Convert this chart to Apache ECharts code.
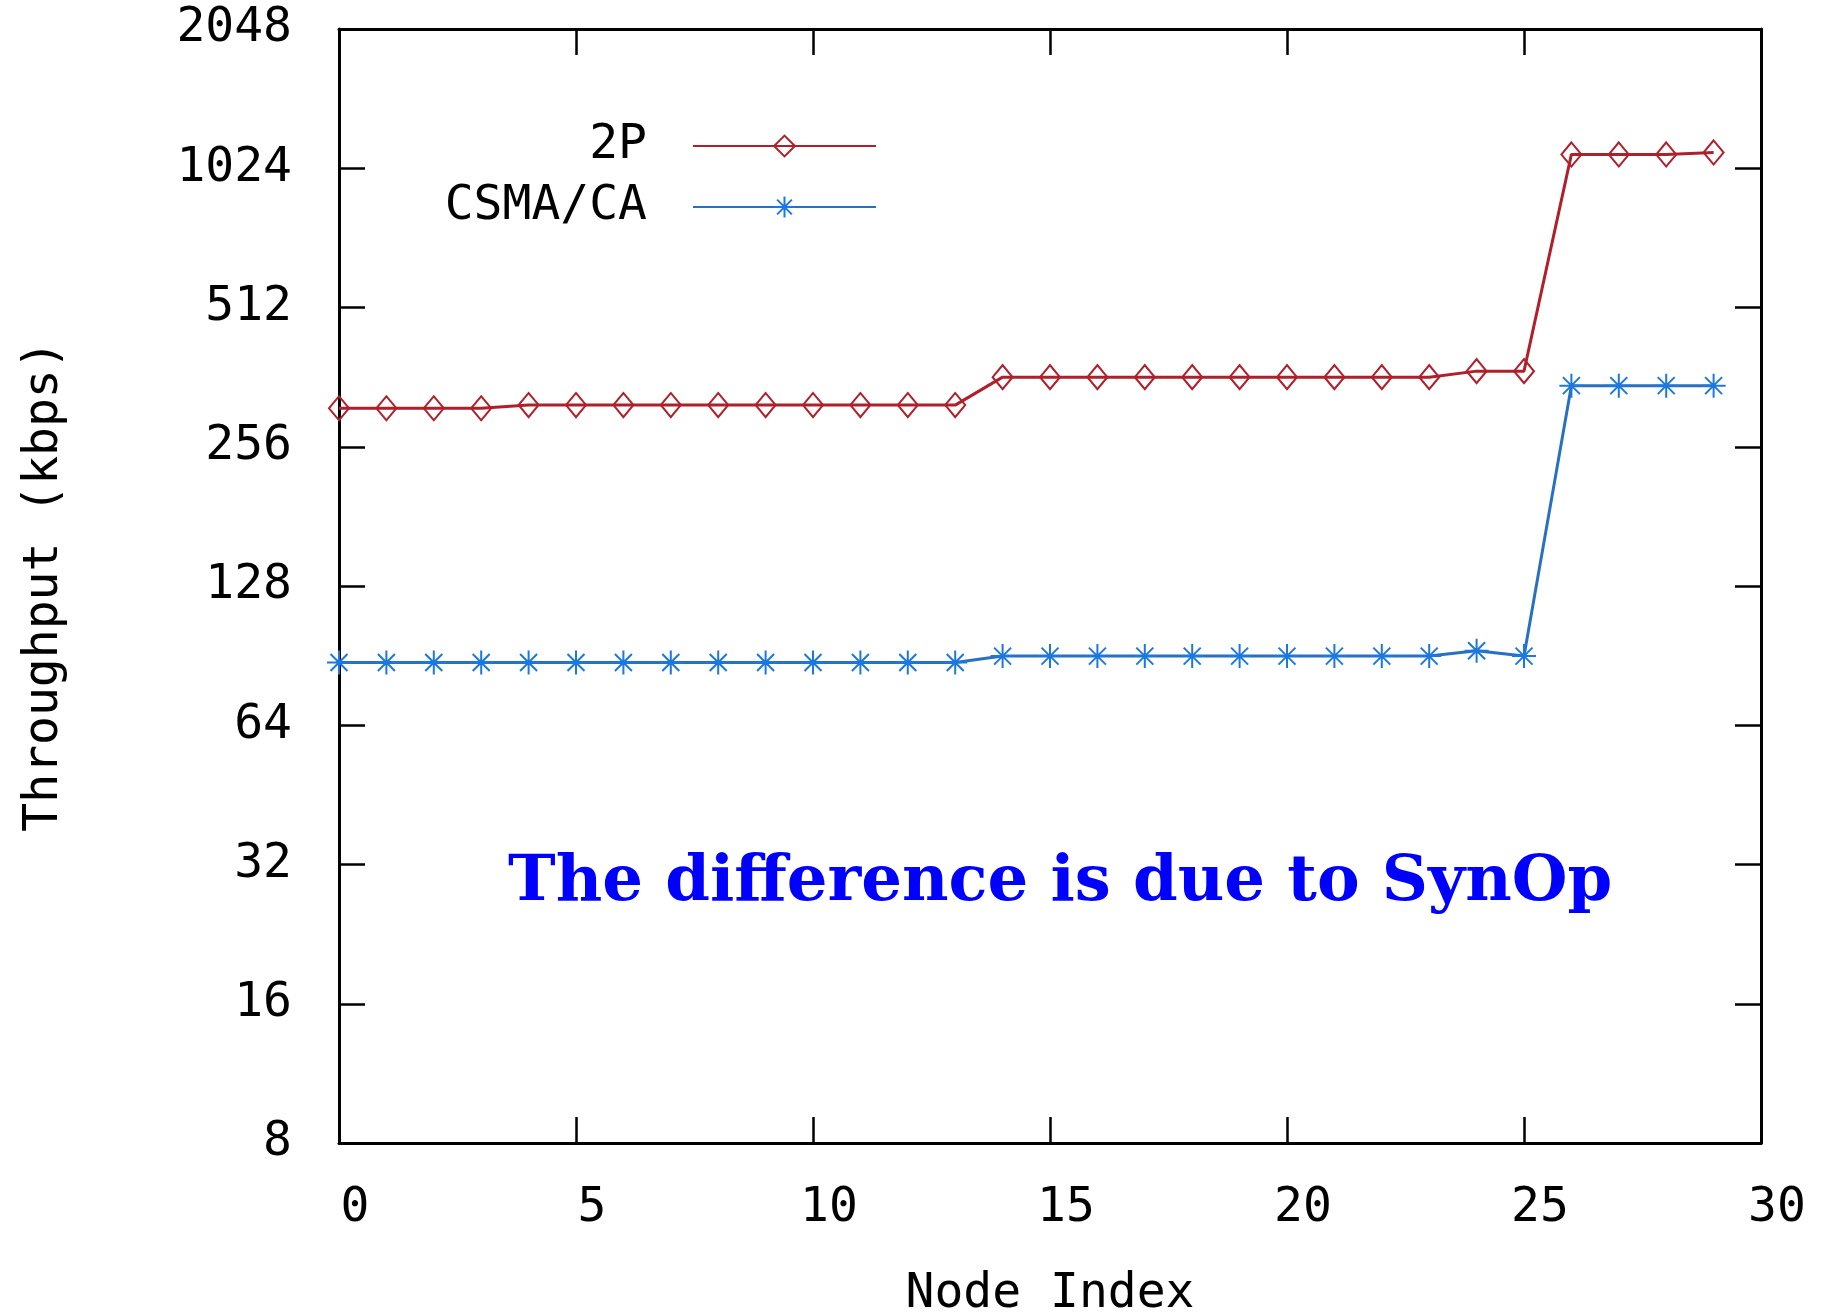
<!DOCTYPE html>
<html>
<head>
<meta charset="utf-8">
<title>Throughput per node</title>
<script src="https://cdn.jsdelivr.net/npm/echarts@6/dist/echarts.min.js"></script>
<style>
  html, body { margin: 0; padding: 0; background: #fff; }
  #chart { width: 1832px; height: 1316px; }
</style>
</head>
<body>
<div id="chart"></div>
<script>
  // node index on x, throughput (kbps) on a log2 y axis
  var nodeIndex = [0, 1, 2, 3, 4, 5, 6, 7, 8, 9, 10, 11, 12, 13, 14,
                   15, 16, 17, 18, 19, 20, 21, 22, 23, 24, 25, 26, 27, 28, 29];
  var tp2P = [310, 310, 310, 310, 315, 315, 315, 315, 315, 315, 315, 315, 315, 315,
              362, 362, 362, 362, 362, 362, 362, 362, 362, 362, 373, 373,
              1097, 1097, 1097, 1108];
  var tpCsma = [87.5, 87.5, 87.5, 87.5, 87.5, 87.5, 87.5, 87.5, 87.5, 87.5, 87.5, 87.5, 87.5, 87.5,
                90.3, 90.3, 90.3, 90.3, 90.3, 90.3, 90.3, 90.3, 90.3, 90.3, 92.7, 90.3,
                347, 347, 347, 347];
  var seriesNames = ['2P', 'CSMA/CA'];
  var note = 'The difference is due to SynOp';

  var mono = 'DejaVu Sans Mono';
  var red = '#b0202a';
  var blue = '#2870c0';
  var asterisk = 'path://M12,0L12,24M0,12L24,12M3.5,3.5L20.5,20.5M3.5,20.5L20.5,3.5';

  function pairs(ys) {
    return nodeIndex.map(function (x, i) { return [x, ys[i]]; });
  }
  function frameLine() {
    return { show: true, onZero: false, lineStyle: { color: '#000', width: 3 } };
  }
  function frameTick() {
    return { show: true, inside: true, length: 26, lineStyle: { color: '#000', width: 2.5 } };
  }

  var chart = echarts.init(document.getElementById('chart'));

  chart.setOption({
    backgroundColor: '#fff',
    animation: false,
    grid: { left: 339, right: 71, top: 29, bottom: 173, outerBoundsMode: 'none' },
    legend: {
      orient: 'vertical',
      left: 385,
      top: 117,
      align: 'right',
      itemWidth: 183,
      itemHeight: 26,
      itemGap: 13,
      data: seriesNames,
      formatter: '{t|{name}}',
      textStyle: {
        rich: {
          t: { width: 257, align: 'right', fontSize: 48, lineHeight: 40,
               fontFamily: mono, color: '#000', padding: [0, 41, 0, 0] }
        }
      }
    },
    xAxis: [{
      type: 'value',
      min: 0,
      max: 30,
      interval: 5,
      name: 'Node Index',
      nameLocation: 'middle',
      nameGap: 128,
      nameTextStyle: { fontSize: 48, fontFamily: mono, color: '#000' },
      axisLine: frameLine(),
      axisTick: frameTick(),
      splitLine: { show: false },
      axisLabel: { margin: 42, fontSize: 48, fontFamily: mono, color: '#000',
                   padding: [0, 0, 0, 32] }
    }, {
      type: 'value',
      position: 'top',
      min: 0,
      max: 30,
      interval: 5,
      axisLine: frameLine(),
      axisTick: frameTick(),
      axisLabel: { show: false },
      splitLine: { show: false }
    }],
    yAxis: [{
      type: 'log',
      logBase: 2,
      min: 8,
      max: 2048,
      interval: 1,
      name: 'Throughput (kbps)',
      nameLocation: 'middle',
      nameGap: 270,
      nameTextStyle: { fontSize: 48, fontFamily: mono, color: '#000' },
      axisLine: frameLine(),
      axisTick: frameTick(),
      splitLine: { show: false },
      axisLabel: {
        margin: 47, fontSize: 48, fontFamily: mono, color: '#000',
        formatter: function (v) { return String(Math.round(v)); }
      }
    }, {
      type: 'log',
      logBase: 2,
      min: 8,
      max: 2048,
      interval: 1,
      position: 'right',
      axisLine: frameLine(),
      axisTick: frameTick(),
      axisLabel: { show: false },
      splitLine: { show: false }
    }],
    series: [{
      name: seriesNames[0],
      type: 'line',
      data: pairs(tp2P),
      symbol: 'diamond',
      symbolSize: [20, 24],
      lineStyle: { color: red, width: 3 },
      itemStyle: { color: 'rgba(0,0,0,0)', borderColor: red, borderWidth: 2 },
      z: 3
    }, {
      name: seriesNames[1],
      type: 'line',
      data: pairs(tpCsma),
      symbol: asterisk,
      symbolSize: [24, 24],
      lineStyle: { color: blue, width: 3 },
      itemStyle: { color: blue, borderColor: '#1a78e0', borderWidth: 2 },
      z: 3
    }],
    graphic: [{
      type: 'text',
      left: 508,
      top: 851,
      style: {
        text: note,
        fontSize: 64,
        fontWeight: 'bold',
        fontFamily: 'DejaVu Serif, serif',
        fill: '#0000ff'
      }
    }]
  });
</script>
</body>
</html>
